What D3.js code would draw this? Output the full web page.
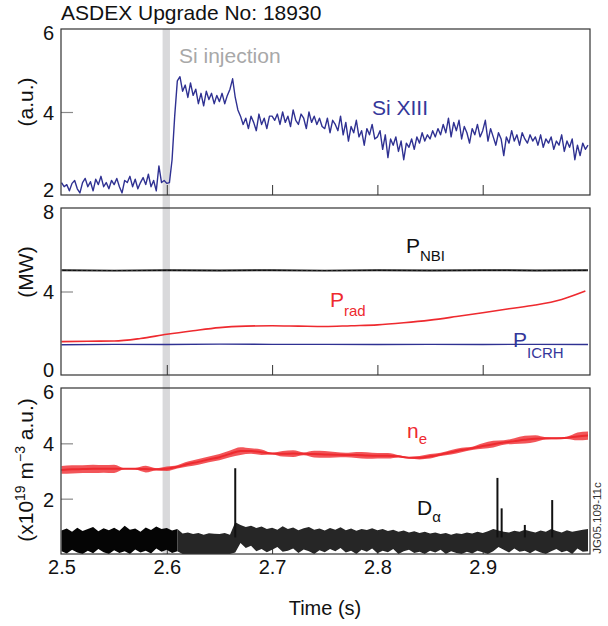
<!DOCTYPE html>
<html><head><meta charset="utf-8">
<script src="https://cdn.jsdelivr.net/npm/d3@7"></script>
<style>body{margin:0;background:#fff}svg{display:block}text{font-family:"Liberation Sans",Arial,Helvetica,sans-serif}</style>
</head><body><svg id="c" width="608" height="626"></svg>
<script>
// ---------- data ----------
const title = "ASDEX Upgrade No: 18930";
const xTickLabels = [2.5, 2.6, 2.7, 2.8, 2.9];
const xInnerTicks = [2.6, 2.7, 2.8, 2.9];
const injection = [2.596, 2.603];

// Si XIII, samples every 2.5 ms from 2.500 s
const siStart = 2.5, siStep = 0.0025;
const siXIII = [
 2.30,2.20,2.25,2.10,2.28,2.35,2.15,2.05,2.30,2.40,2.20,2.32,2.10,2.38,2.25,2.45,2.20,2.30,2.15,2.35,
 2.25,2.40,2.20,2.05,2.35,2.30,2.45,2.20,2.38,2.15,2.30,2.42,2.25,2.50,2.20,2.35,2.10,2.70,2.30,2.35,
 2.28,2.30,2.85,3.90,4.75,4.85,4.50,4.65,4.35,4.70,4.40,4.55,4.20,4.45,4.15,4.50,4.30,4.45,4.20,4.40,
 4.25,4.45,4.20,4.40,4.55,4.80,4.35,4.05,3.90,3.70,3.85,3.60,3.90,3.75,3.55,3.95,3.70,3.85,3.60,3.90,
 3.90,3.80,3.95,3.70,4.00,3.75,3.90,3.65,4.05,3.80,3.70,3.95,3.85,3.60,4.00,3.75,3.90,3.70,3.85,3.65,
 3.60,3.85,3.50,3.80,3.70,3.55,3.90,3.45,3.75,3.30,3.65,3.50,3.80,3.40,3.55,3.20,3.60,3.45,3.70,3.35,
 3.40,3.55,3.10,3.45,2.90,3.35,3.20,3.40,3.05,3.30,2.85,3.25,3.15,3.35,3.10,3.40,3.25,3.50,3.30,3.45,
 3.35,3.55,3.40,3.60,3.45,3.70,3.50,3.85,3.40,3.75,3.55,3.80,3.35,3.65,3.50,3.25,3.60,3.45,3.70,3.40,
 3.55,3.80,3.30,3.60,3.40,3.20,3.50,3.35,2.95,3.40,3.25,3.55,3.30,3.45,3.20,3.50,3.35,3.25,3.45,3.30,
 3.40,3.20,3.45,3.15,3.35,3.25,3.40,3.10,3.30,3.20,3.45,3.05,3.30,3.15,3.35,2.85,3.20,2.95,3.25,3.10,
 3.20
];

// Powers (MW)
const pT = [2.5,2.55,2.6,2.65,2.7,2.75,2.8,2.85,2.9,2.95,3.0];
const pNBI = [5.02,5.00,5.02,5.01,5.02,5.00,5.02,5.01,5.02,5.01,5.02];
const pICRH = [1.45,1.47,1.46,1.48,1.47,1.47,1.46,1.47,1.46,1.47,1.46];
const pradT = [2.5,2.525,2.55,2.575,2.6,2.625,2.65,2.675,2.7,2.725,2.75,2.775,2.8,2.825,2.85,2.875,2.9,2.925,2.95,2.975,2.9975];
const pRad = [1.60,1.62,1.63,1.75,1.95,2.12,2.27,2.34,2.36,2.34,2.32,2.36,2.40,2.50,2.63,2.80,2.98,3.17,3.35,3.62,4.02];

// n_e (x10^19 m^-3): trend and fluctuation half-width, every 10 ms
const neStart = 2.5, neStep = 0.01;
const neMid = [3.04,3.06,3.07,3.08,3.08,3.08,3.08,3.08,3.07,3.06,3.08,3.15,3.25,3.33,3.42,3.50,3.62,3.72,3.72,3.68,
 3.63,3.62,3.63,3.62,3.61,3.60,3.59,3.58,3.58,3.56,3.55,3.55,3.53,3.48,3.48,3.53,3.60,3.68,3.76,3.82,
 3.90,3.97,4.03,4.08,4.13,4.17,4.18,4.18,4.20,4.25,4.28];
const neSpread = [0.14,0.15,0.14,0.15,0.14,0.15,0.02,0.03,0.12,0.04,0.08,0.06,0.09,0.10,0.10,0.11,0.12,0.14,0.10,0.10,
 0.03,0.10,0.12,0.05,0.12,0.12,0.10,0.08,0.11,0.12,0.10,0.10,0.04,0.03,0.06,0.08,0.06,0.08,0.08,0.06,
 0.10,0.12,0.08,0.10,0.14,0.12,0.04,0.03,0.04,0.14,0.15];

// D-alpha (a.u.): envelope every 5 ms, plus spikes
const daStart = 2.5, daStep = 0.005;
const daUpper = [0.85,0.92,0.80,0.95,0.83,0.90,0.98,0.82,0.93,0.86,
 0.95,0.84,1.02,0.88,0.92,0.80,0.96,0.87,0.99,0.90,
 0.94,0.85,0.90,0.74,0.78,0.72,0.76,0.70,0.75,0.73,
 0.72,0.76,0.70,1.15,1.05,0.98,1.02,0.94,0.99,0.90,
 0.95,0.88,1.00,0.90,0.96,0.86,0.93,0.98,0.88,0.92,
 0.85,0.94,0.88,0.97,0.86,0.92,0.84,0.90,0.87,0.93,
 0.86,0.90,0.83,0.88,0.80,0.85,0.78,0.82,0.76,0.80,
 0.74,0.78,0.72,0.76,0.70,0.75,0.72,0.78,0.74,0.80,
 0.76,0.82,0.90,0.85,0.80,0.78,0.84,0.80,0.88,0.82,
 0.78,0.85,0.80,0.90,0.83,0.78,0.86,0.80,0.84,0.88,0.90];
const daLower = [0.10,0.02,0.15,0.05,0.00,0.12,0.03,0.18,0.06,0.00,
 0.14,0.04,0.10,0.00,0.16,0.05,0.12,0.02,0.20,0.08,
 0.15,0.04,0.10,0.00,0.00,0.00,0.00,0.00,0.00,0.00,
 0.00,0.00,0.00,0.05,0.40,0.22,0.30,0.10,0.18,0.06,
 0.15,0.25,0.08,0.12,0.20,0.04,0.16,0.10,0.00,0.14,
 0.06,0.18,0.10,0.22,0.05,0.12,0.00,0.15,0.08,0.20,
 0.03,0.12,0.06,0.18,0.00,0.10,0.15,0.04,0.08,0.00,
 0.12,0.05,0.15,0.00,0.10,0.04,0.00,0.08,0.02,0.12,
 0.06,0.00,0.10,0.25,0.15,0.05,0.20,0.08,0.12,0.03,
 0.14,0.05,0.00,0.10,0.18,0.06,0.12,0.00,0.20,0.08,0.10];
const daSpikeT = [2.665, 2.914, 2.918, 2.940, 2.966];
const daSpikeV = [3.10, 2.75, 1.65, 1.05, 1.95];

// ---------- drawing ----------
const svg = d3.select("#c");
svg.append("rect").attr("width",608).attr("height",626).attr("fill","#fff");
const FONT = 20;
const x = d3.scaleLinear().domain([2.5, 3.0]).range([61.5, 588]);
const xL = 61, xR = 590;
const y1 = d3.scaleLinear().domain([2, 6]).range([195, 29]);
const y2 = d3.scaleLinear().domain([0, 8]).range([375, 208]);
const y3 = d3.scaleLinear().domain([0, 6]).range([554, 388]);
const panels = [
  {y: y1, labels: [2,4,6], inner: [4]},
  {y: y2, labels: [0,4,8], inner: [4]},
  {y: y3, labels: [2,4,6], inner: [2,4]}
];

// injection band
svg.append("rect")
  .attr("x", x(injection[0])).attr("width", x(injection[1]) - x(injection[0]))
  .attr("y", y1.range()[1]).attr("height", y3.range()[0] - y1.range()[1])
  .attr("fill", "#d9d9db");

// inner ticks
panels.forEach(p => {
  const [b, t] = p.y.range();
  const gx = svg.append("g").attr("transform", `translate(0,${b})`)
    .call(d3.axisBottom(x).tickValues(xInnerTicks).tickSizeInner(-10).tickSizeOuter(0).tickFormat(""));
  gx.select(".domain").remove();
  gx.selectAll("line").attr("stroke", "#333").attr("stroke-width", 1);
  const gy = svg.append("g").attr("transform", `translate(${xL},0)`)
    .call(d3.axisLeft(p.y).tickValues(p.inner).tickSizeInner(-12).tickSizeOuter(0).tickFormat(""));
  gy.select(".domain").remove();
  gy.selectAll("line").attr("stroke", "#8a8a8a").attr("stroke-width", 1.2);
});

// Panel 1: Si XIII
const siData = siXIII.map((v, i) => [siStart + i * siStep, v]);
svg.append("path").datum(siData)
  .attr("d", d3.line().x(d => x(d[0])).y(d => y1(d[1])))
  .attr("fill", "none").attr("stroke", "#2f3192").attr("stroke-width", 1.4).attr("stroke-linejoin", "round");

// Panel 2: powers
const lineP = (ts, vs) => d3.line().x((d, i) => x(ts[i])).y(d => y2(d))(vs);
svg.append("path").attr("d", lineP(pT, pICRH)).attr("fill", "none").attr("stroke", "#2f3192").attr("stroke-width", 1.3);
svg.append("path").attr("d", d3.line().curve(d3.curveMonotoneX).x((d, i) => x(pradT[i])).y(d => y2(d))(pRad))
  .attr("fill", "none").attr("stroke", "#ee2a2f").attr("stroke-width", 1.6);
svg.append("path").attr("d", lineP(pT, pNBI)).attr("fill", "none").attr("stroke", "#111").attr("stroke-width", 2);
svg.append("path").attr("d", lineP(pT, pNBI)).attr("fill", "none").attr("stroke", "#fff").attr("stroke-width", 0.6)
  .attr("stroke-dasharray", "1 4").attr("opacity", 0.6);

// Panel 3: D-alpha
const daData = daUpper.map((u, i) => ({t: daStart + i * daStep, u, l: daLower[i]}));
const daArea = d3.area().x(d => x(d.t)).y0(d => y3(d.l)).y1(d => y3(d.u));
svg.append("path").attr("d", daArea(daData.filter(d => d.t <= 2.6101))).attr("fill", "#050505");
svg.append("path").attr("d", daArea(daData.filter(d => d.t >= 2.6099))).attr("fill", "#262626");
svg.selectAll(".spk").data(daSpikeT).join("line")
  .attr("x1", d => x(d)).attr("x2", d => x(d))
  .attr("y1", y3(0.6)).attr("y2", (d, i) => y3(daSpikeV[i]))
  .attr("stroke", "#111").attr("stroke-width", 2);

// n_e
const neData = neMid.map((m, i) => ({t: neStart + i * neStep, m, s: neSpread[i]}));
svg.append("path")
  .attr("d", d3.area().curve(d3.curveMonotoneX).x(d => x(d.t)).y0(d => y3(d.m - d.s)).y1(d => y3(d.m + d.s))(neData))
  .attr("fill", "#ef2b30").attr("opacity", 0.8);
svg.append("path")
  .attr("d", d3.line().curve(d3.curveMonotoneX).x(d => x(d.t)).y(d => y3(d.m))(neData))
  .attr("fill", "none").attr("stroke", "#ee2a2f").attr("stroke-width", 2);

// frames
panels.forEach(p => {
  const [b, t] = p.y.range();
  svg.append("rect").attr("x", xL).attr("y", t).attr("width", xR - xL).attr("height", b - t)
    .attr("fill", "none").attr("stroke", "#333").attr("stroke-width", 1.2);
});

// y tick labels
panels.forEach(p => {
  const [lo, hi] = p.y.domain();
  const g = svg.append("g").attr("transform", `translate(${xL},0)`)
    .call(d3.axisLeft(p.y).tickValues(p.labels).tickSize(0).tickPadding(7).tickFormat(d3.format("d")));
  g.select(".domain").remove();
  g.selectAll("text").attr("font-size", FONT).attr("fill", "#111")
    .attr("font-family", '"Liberation Sans",Arial,sans-serif')
    .attr("dy", d => d === hi ? "0.52em" : d === lo ? "0.08em" : "0.37em");
});

// x tick labels
const gxl = svg.append("g").attr("transform", `translate(0,${y3.range()[0]})`)
  .call(d3.axisBottom(x).tickValues(xTickLabels).tickSize(0).tickPadding(6).tickFormat(d3.format(".1f")));
gxl.select(".domain").remove();
gxl.selectAll("text").attr("font-size", FONT).attr("fill", "#111")
  .attr("font-family", '"Liberation Sans",Arial,sans-serif');

// texts
const T = (xx, yy, s, opt = {}) => svg.append("text").attr("x", xx).attr("y", yy)
  .attr("font-size", opt.size || 21).attr("fill", opt.fill || "#111")
  .attr("text-anchor", opt.anchor || "start").text(s);

T(61, 20, title);
T(179, 63, "Si injection", {fill: "#a8a8a8"});
T(372, 115, "Si XIII", {fill: "#34379a"});
T(325, 615, "Time (s)", {anchor: "middle", size: 20});

const sub = (xx, yy, main, s, fill, dy) => {
  const t = svg.append("text").attr("x", xx).attr("y", yy).attr("font-size", 21).attr("fill", fill);
  t.append("tspan").text(main);
  t.append("tspan").attr("font-size", 15).attr("dy", dy).text(s);
};
sub(406, 253, "P", "NBI", "#111", 8);
sub(330, 307, "P", "rad", "#ee2a2f", 8.5);
sub(513, 347, "P", "ICRH", "#34379a", 11);
sub(407, 438, "n", "e", "#ee2a2f", 6);
sub(417, 515, "D", "α", "#111", 6.5);

// y axis titles
const ylab = (yy) => svg.append("text").attr("transform", `translate(33,${yy}) rotate(-90)`)
  .attr("text-anchor", "middle").attr("font-size", 21).attr("fill", "#111");
ylab(102).text("(a.u.)");
ylab(272).text("(MW)");
const yl3 = ylab(470);
yl3.append("tspan").text("(x10");
yl3.append("tspan").attr("font-size", 14).attr("dy", -8).text("19");
yl3.append("tspan").attr("dy", 8).text(" m");
yl3.append("tspan").attr("font-size", 14).attr("dy", -8).text("−3");
yl3.append("tspan").attr("dy", 8).text(" a.u.)");

svg.append("text").attr("transform", "translate(601,518) rotate(-90)")
  .attr("text-anchor", "middle").attr("font-size", 11.5).attr("fill", "#333").text("JG05.109-11c");
</script></body></html>
